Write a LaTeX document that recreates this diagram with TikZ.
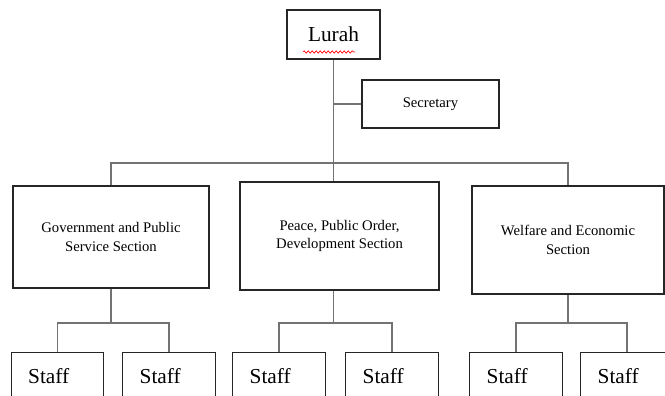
\documentclass[tikz,border=0pt]{standalone}
\usepackage{fontspec}
\setmainfont{Liberation Serif}
\usetikzlibrary{decorations.pathmorphing}

\begin{document}
\begin{tikzpicture}[x=0.75pt, y=-0.75pt,
      box/.style={rectangle, draw=black!85, line width=0.9pt,
                  align=center, inner sep=2pt, font=\fontsize{11}{14}\selectfont},
      head/.style={box, font=\fontsize{16}{19}\selectfont},
      secbox/.style={box, line width=1.8pt},
      unit/.style={box, minimum height=81pt},
      staffbox/.style={box, anchor=north, text width=44pt, inner xsep=12.75pt,
                  align=left, minimum height=34.5pt, font=\fontsize{16}{19}\selectfont},
      conn/.style={draw=black!55, line width=1.2pt},
    ]

    \clip (0,0) rectangle (665,396);

    % Row 1: head and secretary
    \node[head, minimum width=69.75pt, minimum height=36.75pt] (lurah) at (333.5,34.5) {Lurah};
    \node[secbox, minimum width=102.75pt, minimum height=36pt] (sec) at (430.5,104) {Secretary};

    % Row 2: sections
    \node[unit, minimum width=147pt, minimum height=76.5pt] (gov) at (111,237)
      {Government and Public\\Service Section};
    \node[unit, minimum width=149.25pt] (peace) at (339.5,236)
      {Peace, Public Order,\\Development Section};
    \node[unit, minimum width=144pt] (welf) at (568,240)
      {Welfare and Economic\\Section};

    % Row 3: staff
    \node[staffbox] (s1) at (57.5,352) {Staff};
    \node[staffbox] (s2) at (169,352)  {Staff};
    \node[staffbox] (s3) at (279,352)  {Staff};
    \node[staffbox] (s4) at (392,352)  {Staff};
    \node[staffbox] (s5) at (516,352)  {Staff};
    \node[staffbox] (s6) at (627,352)  {Staff};

    % red wavy underline under the head
    \draw[red, line width=0.5pt, decorate,
          decoration={snake, amplitude=0.9pt, segment length=3pt}]
      (303,52) -- (355,52);

    % Lines: head to secretary and sections
    \coordinate (bus) at (334,163);
    \coordinate (sub) at (334,323);
    \draw[conn] (lurah) -- (lurah |- peace.north);
    \draw[conn] (lurah |- sec.west) -- (sec.west);
    \draw[conn] (gov.north) -- (gov.north |- bus) -- (welf.north |- bus) -- (welf.north);

    % Lines: sections to staff
    \draw[conn] (gov.south) -- (gov.south |- sub);
    \draw[conn] (s1.north) -- (s1.north |- sub) -- (s2.north |- sub) -- (s2.north);
    \draw[conn] (lurah |- peace.south) -- (lurah |- sub);
    \draw[conn] (s3.north) -- (s3.north |- sub) -- (s4.north |- sub) -- (s4.north);
    \draw[conn] (welf.south) -- (welf.south |- sub);
    \draw[conn] (s5.north) -- (s5.north |- sub) -- (s6.north |- sub) -- (s6.north);

\end{tikzpicture}
\end{document}
